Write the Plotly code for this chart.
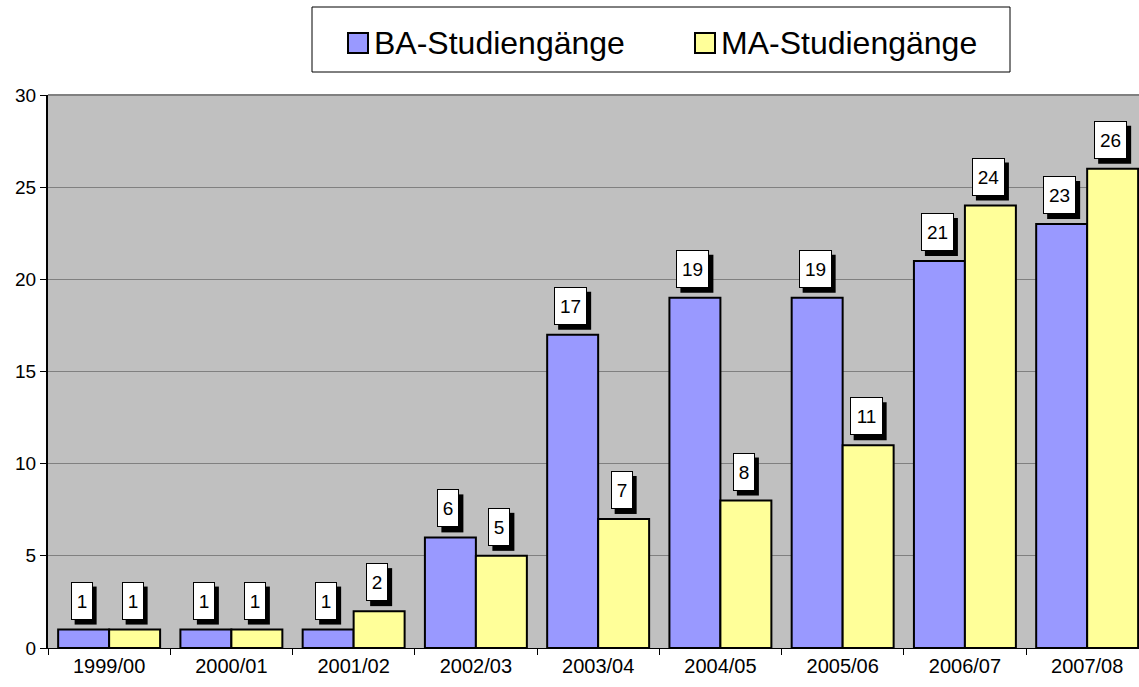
import plotly.graph_objects as go

categories = ["1999/00", "2000/01", "2001/02", "2002/03", "2003/04", "2004/05", "2005/06", "2006/07", "2007/08"]
ba_values = [1, 1, 1, 6, 17, 19, 19, 21, 23]
ma_values = [1, 1, 2, 5, 7, 8, 11, 24, 26]
series_names = ["BA-Studiengänge", "MA-Studiengänge"]
series_colors = ["#9999FF", "#FFFF99"]
y_ticks = [0, 5, 10, 15, 20, 25, 30]

FONT = "Liberation Sans, Arial, sans-serif"
W, H = 1139, 687
ML, MR, MT, MB = 48, 0, 95, 39
PW, PH = W - ML - MR, H - MT - MB


def px_x(px):
    return (px - ML) / PW


def px_y(py):
    return (H - MB - py) / PH


fig = go.Figure()
for name, vals, col in zip(series_names, (ba_values, ma_values), series_colors):
    fig.add_trace(go.Bar(x=categories, y=vals, name=name, showlegend=False,
                         marker=dict(color=col, line=dict(color="black", width=2))))

bar_offset = 25.5
annotations = []
shapes = []
BOX_H = 28
PAD = 4
for vals, sign in ((ba_values, -1), (ma_values, 1)):
    for c, v in zip(categories, vals):
        txt = str(v)
        tw = 11 * len(txt) + 1
        cx = sign * bar_offset - 2
        bw = tw + 2 * PAD + 2
        bh = BOX_H + 2 * PAD + 2
        # shadow
        shapes.append(dict(type="rect", xref="x", yref="y", xsizemode="pixel", ysizemode="pixel",
                           xanchor=c, yanchor=v,
                           x0=cx + 4 - bw / 2, x1=cx + 4 + bw / 2, y0=5, y1=5 + bh,
                           fillcolor="black", line=dict(width=0), layer="above"))
        annotations.append(dict(x=c, y=v, xref="x", yref="y", text=txt, showarrow=False,
                                yanchor="bottom", xanchor="center",
                                font=dict(family=FONT, size=19, color="black"),
                                borderpad=PAD, borderwidth=1, height=BOX_H, width=tw,
                                xshift=cx, yshift=10, bgcolor="white", bordercolor="black"))

# darker top border of plot area
shapes.append(dict(type="line", xref="paper", yref="paper", x0=0, x1=1, y0=1, y1=1,
                   line=dict(color="#808080", width=2), layer="above"))

# custom legend
shapes.append(dict(type="rect", xref="paper", yref="paper", x0=px_x(312), x1=px_x(1010),
                   y0=px_y(72), y1=px_y(7), line=dict(color="black", width=1), fillcolor="white",
                   layer="above"))
marker_lefts = [348, 695]
for name, col, mx in zip(series_names, series_colors, marker_lefts):
    shapes.append(dict(type="rect", xref="paper", yref="paper", x0=px_x(mx), x1=px_x(mx + 20),
                       y0=px_y(53), y1=px_y(33), line=dict(color="black", width=2), fillcolor=col,
                       layer="above"))
    annotations.append(dict(xref="paper", yref="paper", x=px_x(mx + 24), y=px_y(43), text=name,
                            showarrow=False, xanchor="left", yanchor="middle",
                            font=dict(family=FONT, size=32, color="black")))

fig.update_layout(
    width=W, height=H,
    margin=dict(l=ML, r=MR, t=MT, b=MB, autoexpand=False),
    paper_bgcolor="white", plot_bgcolor="#C0C0C0",
    barmode="group", bargap=0.166, bargroupgap=0,
    font=dict(family=FONT, color="black"),
    showlegend=False,
    annotations=annotations,
    shapes=shapes,
    xaxis=dict(type="category", range=[-0.5, 8.424], showline=True, linecolor="black", linewidth=1,
               ticks="outside", tickson="boundaries", ticklen=6, tickcolor="black",
               tickfont=dict(family=FONT, size=20, color="black"), showgrid=False),
    yaxis=dict(range=[0, 30], tickvals=y_ticks, showline=True, linecolor="black", linewidth=2,
               ticks="outside", ticklen=6, tickcolor="black", gridcolor="#808080", gridwidth=1,
               tickfont=dict(family=FONT, size=19, color="black"), zeroline=False),
)
fig.write_html("out.html", post_script="document.body.style.margin='0';",
               config={"displayModeBar": False})
